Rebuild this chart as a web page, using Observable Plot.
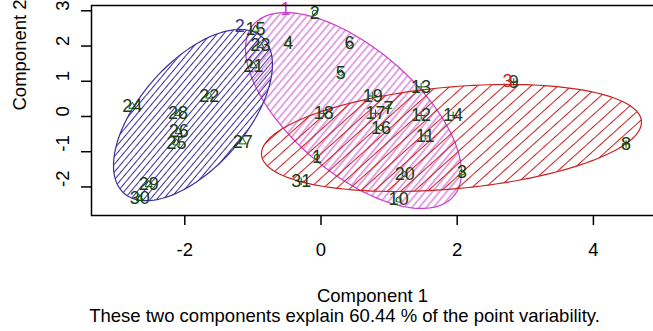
<!DOCTYPE html>
<html><head><meta charset="utf-8">
<script src="https://cdn.jsdelivr.net/npm/d3@7"></script>
<script src="https://cdn.jsdelivr.net/npm/@observablehq/plot@0.6"></script>
<style>
html,body{margin:0;padding:0;background:#fff;overflow:hidden;}
#chart svg{overflow:visible;display:block;}
</style></head><body><div id="chart"></div>
<script>
// ---- data ----
const pointIds     = [1,2,3,4,5,6,7,8,9,10,11,12,13,14,15,16,17,18,19,20,21,22,23,24,25,26,27,28,29,30,31];
const pointX       = [-0.06,-0.09,2.07,-0.48,0.29,0.42,0.99,4.48,2.83,1.14,1.53,1.47,1.47,1.94,-0.96,0.88,0.80,0.04,0.76,1.23,-0.99,-1.64,-0.89,-2.77,-2.12,-2.09,-1.15,-2.10,-2.53,-2.66,-0.29];
const pointY       = [-1.15,2.94,-1.59,2.07,1.24,2.07,0.23,-0.78,0.98,-2.36,-0.55,0.03,0.84,0.03,2.48,-0.32,0.09,0.09,0.58,-1.64,1.44,0.58,2.02,0.29,-0.75,-0.43,-0.72,0.09,-1.93,-2.33,-1.84];
const pointCluster = [1,1,1,1,1,1,3,3,3,1,3,3,3,3,2,1,3,3,3,1,2,2,2,2,2,2,2,2,2,2,3];

const clusterIds    = [1,2,3];
const clusterColors = ["#c93fc9","#3b2e9e","#c82222"];
const clusterSymbol = ["circle","triangle","plus"];
const ellipseCX  = [0.477,-1.88,1.916];
const ellipseCY  = [0.17,0.04,-0.61];
const ellipseHW  = [1.586,1.167,2.79];
const ellipseHH  = [2.78,2.43,1.519];
const ellipseRho = [-0.63,0.59,0.295];
const hatchAngle   = [50,50,42];
const hatchSpacing = [5.5,5,9];

const xTicks = [-2,0,2,4];
const yTicks = [-2,-1,0,1,2,3];
const xLabel = "Component 1";
const yLabel = "Component 2";
const caption = "These two components explain 60.44 % of the point variability.";

// ---- build tables ----
const points = pointIds.map((id,i)=>({id, x:pointX[i], y:pointY[i], c:pointCluster[i]}));
function outline(k){
  const rows=[]; const n=160; const r=ellipseRho[k], s=Math.sqrt(1-r*r);
  for(let j=0;j<=n;j++){const t=2*Math.PI*j/n;
    rows.push({x:ellipseCX[k]+ellipseHW[k]*Math.cos(t), y:ellipseCY[k]+ellipseHH[k]*(r*Math.cos(t)+s*Math.sin(t))});}
  return rows;
}
const tops = clusterIds.map((id,k)=>({id, x:ellipseCX[k]+ellipseHW[k]*ellipseRho[k], y:ellipseCY[k]+ellipseHH[k], color:clusterColors[k]}));

const font = "'Liberation Sans', Arial, sans-serif";
const labelColor = "#173e17";

const marks = [];
clusterIds.forEach((id,k)=>{
  marks.push(Plot.line(outline(k), {x:"x", y:"y", stroke:clusterColors[k], strokeWidth:1.2, fill:`url(#hatch${id})`}));
});
clusterIds.forEach((id,k)=>{
  marks.push(Plot.dot(points.filter(p=>p.c===id), {x:"x", y:"y", symbol:clusterSymbol[k], r:2.6, stroke:"#006400", strokeWidth:1}));
});
marks.push(Plot.text(points, {x:"x", y:"y", text:d=>String(d.id), fill:labelColor, fontSize:18}));
clusterIds.forEach((id,k)=>{
  marks.push(Plot.text([tops[k]], {x:"x", y:"y", text:d=>String(d.id), fill:clusterColors[k], fontSize:18, dy:-3}));
});
marks.push(Plot.frame({stroke:"black", strokeWidth:1.5}));
marks.push(Plot.axisX(xTicks, {tickSize:10, tickPadding:17, tickFormat:d=>String(d), label:null, fontSize:18.5, stroke:"black", strokeWidth:1.5}));
marks.push(Plot.axisY(yTicks, {tickSize:10, tickFormat:()=>"", label:null, stroke:"black", strokeWidth:1.5}));
marks.push(Plot.text(yTicks, {y:d=>d, frameAnchor:"left", dx:-28, rotate:-90, text:d=>String(d), fontSize:18.5, fill:"black"}));
marks.push(Plot.text([yLabel], {frameAnchor:"left", dx:-71, rotate:-90, text:d=>d, fontSize:18.5, fill:"black"}));
marks.push(Plot.text([xLabel], {frameAnchor:"bottom", dy:86, dx:-4, text:d=>d, fontSize:18.5, fill:"black"}));
marks.push(Plot.text([caption], {frameAnchor:"bottom", dy:106, dx:-32, text:d=>d, fontSize:18.5, fill:"black"}));

const svg = Plot.plot({
  width:653, height:331,
  marginLeft:91, marginRight:-8, marginTop:5, marginBottom:116,
  style:{fontFamily:font, fontSize:"18px", background:"#fff", color:"black"},
  x:{domain:[-3.37,5.0]},
  y:{domain:[-2.81,3.15]},
  marks
});
const ns="http://www.w3.org/2000/svg";
const defs=document.createElementNS(ns,"defs");
let h="";
clusterIds.forEach((id,k)=>{
  const s=hatchSpacing[k];
  h+=`<pattern id="hatch${id}" patternUnits="userSpaceOnUse" width="40" height="${s}" patternTransform="rotate(${-hatchAngle[k]})"><line x1="0" y1="${s/2}" x2="40" y2="${s/2}" stroke="${clusterColors[k]}" stroke-width="1.1"/></pattern>`;
});
defs.innerHTML=h;
svg.insertBefore(defs, svg.firstChild);
document.getElementById("chart").appendChild(svg);
</script></body></html>
